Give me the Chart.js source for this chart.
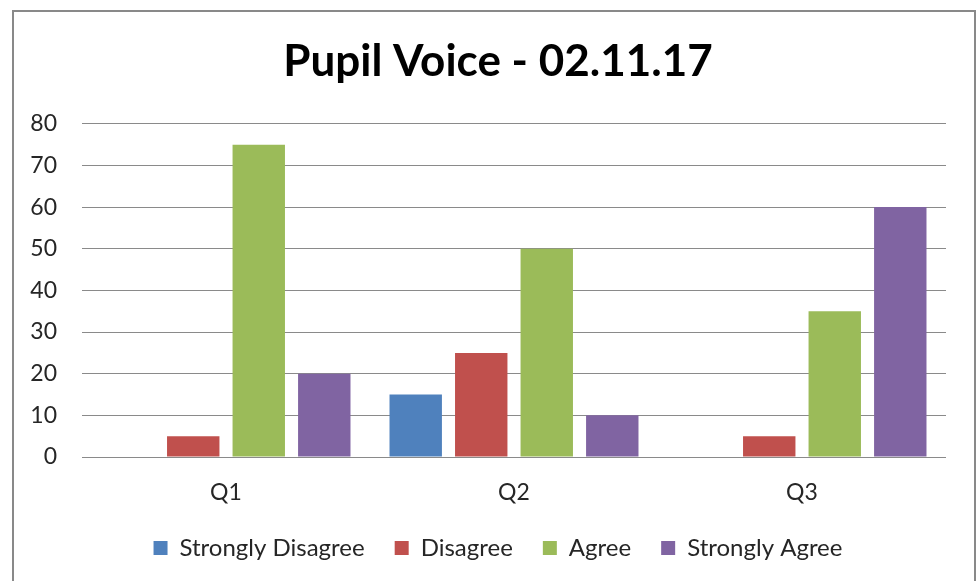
<!DOCTYPE html>
<html>
<head>
<meta charset="utf-8">
<script src="https://cdn.jsdelivr.net/npm/chart.js@4"></script>
<style>
  html, body { margin: 0; padding: 0; background: #fff; }
  #frame {
    position: absolute; left: 12px; top: 10px;
    width: 960px; height: 580px;
    border: 2px solid #898989; border-bottom: none;
  }
</style>
</head>
<body>
<div id="frame"><canvas id="mychart" width="960" height="571"></canvas></div>
<script>
// values
var categories = ['Q1', 'Q2', 'Q3'];
var seriesNames = ['Strongly Disagree', 'Disagree', 'Agree', 'Strongly Agree'];
var stronglyDisagree = [0, 15, 0];
var disagree = [5, 25, 5];
var agree = [75, 50, 35];
var stronglyAgree = [20, 10, 60];
var yTicks = [0, 10, 20, 30, 40, 50, 60, 70, 80];

var colours = ['#4F81BD', '#C0504D', '#9BBB59', '#8064A2'];
var values = [stronglyDisagree, disagree, agree, stronglyAgree];

var sets = [];
for (var i = 0; i < values.length; i++) {
  sets.push({
    label: seriesNames[i],
    data: values[i],
    backgroundColor: colours[i],
    borderWidth: 0,
    categoryPercentage: 0.91,
    barPercentage: 0.8
  });
}

var font = 'Lato, "Open Sans", sans-serif';
var ctx = document.getElementById('mychart').getContext('2d');
var chart = new Chart(ctx, {
  type: 'bar',
  data: { labels: categories, datasets: sets },
  options: {
    responsive: false,
    animation: false,
    layout: { padding: { left: 8, right: 0, top: 0, bottom: 13 } },
    plugins: {
      title: {
        display: true,
        text: 'Pupil Voice - 02.11.17',
        color: '#000',
        font: { family: font, size: 44, weight: 'bold' },
        padding: { top: 23, bottom: 36 }
      },
      legend: {
        position: 'bottom',
        labels: {
          color: '#262626',
          font: { family: font, size: 24 },
          boxWidth: 14, boxHeight: 14,
          padding: 30
        }
      },
      tooltip: { enabled: false }
    },
    scales: {
      x: {
        afterFit: function (s) { s.height = 49; },
        grid: { display: false, drawTicks: false },
        border: { display: false },
        ticks: { color: '#262626', font: { family: font, size: 23 }, padding: 22 }
      },
      y: {
        min: 0, max: 80,
        afterFit: function (s) { s.width = 60; },
        afterBuildTicks: function (s) { s.ticks = yTicks.map(function (v) { return { value: v }; }); },
        grid: { color: '#8a8a8a', lineWidth: 1, drawTicks: false },
        border: { display: false },
        ticks: { color: '#262626', font: { family: font, size: 23 }, padding: 25 }
      },
      // empty right-hand spacer so the plot ends where the reference does
      yRight: {
        position: 'right',
        afterFit: function (s) { s.width = 28; },
        grid: { display: false, drawTicks: false },
        border: { display: false },
        ticks: { display: false }
      }
    }
  }
});
</script>
</body>
</html>
